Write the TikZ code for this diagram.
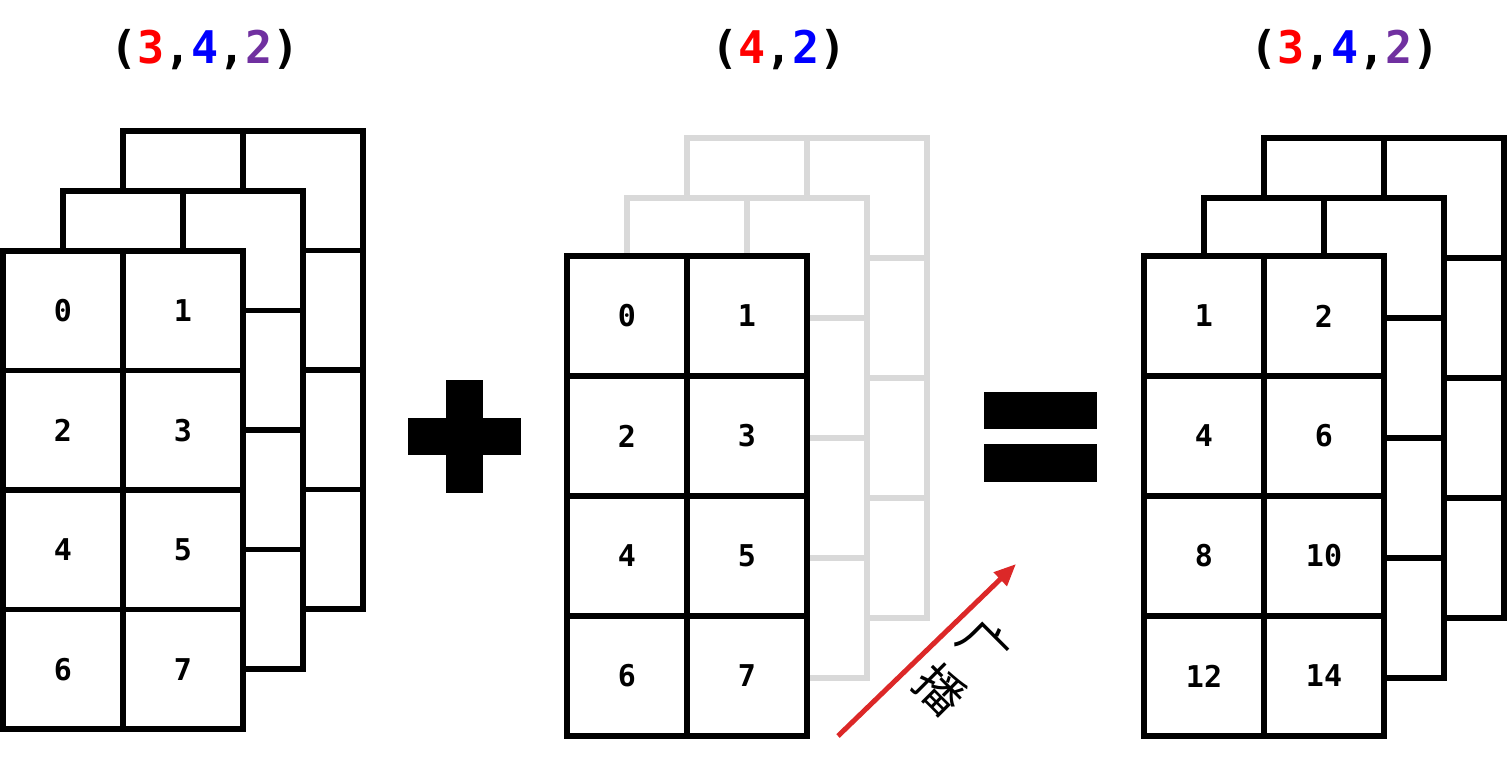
\documentclass[tikz,border=0pt]{standalone}
\usepackage{fontspec}
\setmonofont{DejaVu Sans Mono}
\newfontfamily\cjk{Noto Sans CJK SC}
\usetikzlibrary{arrows.meta}
\definecolor{purp}{HTML}{7030A0}
\definecolor{lightgray}{HTML}{D9D9D9}
\definecolor{arrowred}{RGB}{220,40,40}
\newcommand{\gridlayer}[4]{%
  \fill[white] (#1,#2) rectangle ++(240,4*#3);
  \draw[#4, line width=5.5pt] (#1,#2) rectangle ++(240,4*#3);
  \draw[#4, line width=5.5pt] (#1+120,#2) -- ++(0,4*#3);
  \foreach \i in {1,2,3} {\draw[#4, line width=5.5pt] (#1,#2+\i*#3) -- ++(240,0);}
}
\tikzset{
  cellbase/.style={draw=black, fill=white, line width=5.5pt, minimum width=120pt, inner sep=0pt, outer sep=0pt, font=\ttfamily\bfseries\fontsize{30}{32}\selectfont},
  cellL/.style={cellbase, minimum height=119.5pt},
  cellM/.style={cellbase, minimum height=120pt},
  cellR/.style={cellbase, minimum height=120pt},
  title/.style={font=\ttfamily\bfseries\fontsize{45}{54}\selectfont, inner sep=0pt, anchor=base},
  cjklabel/.style={font=\cjk\fontsize{48}{63}\selectfont, rotate=-45, inner sep=0pt, align=center},
}
\begin{document}
\begin{tikzpicture}[x=1pt,y=-1pt]
\useasboundingbox (0,0) rectangle (1507,771);
% titles
\node[title] (t1) at (205,63) {(\textcolor{red}{3},\textcolor{blue}{4},\textcolor{purp}{2})};
\node[title] (t2) at (779,63) {(\textcolor{red}{4},\textcolor{blue}{2})};
\node[title] (t3) at (1345,63) {(\textcolor{red}{3},\textcolor{blue}{4},\textcolor{purp}{2})};
% left stack
\gridlayer{123}{131}{119.5}{black}
\gridlayer{63}{191}{119.5}{black}
\foreach \v [count=\k from 0] in {0,1,2,3,4,5,6,7} {
  \pgfmathtruncatemacro\cc{mod(\k,2)}
  \pgfmathtruncatemacro\rr{div(\k,2)}
  \node[cellL] (L\k) at (63+120*\cc, 310.75+119.5*\rr) {\v};
}
% middle stack
\gridlayer{687}{138}{120}{lightgray}
\gridlayer{627}{198}{120}{lightgray}
\foreach \v [count=\k from 0] in {0,1,2,3,4,5,6,7} {
  \pgfmathtruncatemacro\cc{mod(\k,2)}
  \pgfmathtruncatemacro\rr{div(\k,2)}
  \node[cellM] (M\k) at (627+120*\cc, 316+120*\rr) {\v};
}
% right stack
\gridlayer{1264}{138}{120}{black}
\gridlayer{1204}{198}{120}{black}
\foreach \v [count=\k from 0] in {1,2,4,6,8,10,12,14} {
  \pgfmathtruncatemacro\cc{mod(\k,2)}
  \pgfmathtruncatemacro\rr{div(\k,2)}
  \node[cellR] (R\k) at (1204+120*\cc, 316+120*\rr) {\v};
}
% plus
\fill[black] (446,380) rectangle (483,493);
\fill[black] (408,418) rectangle (521,455);
% equals
\fill[black] (984,392) rectangle (1097,429);
\fill[black] (984,444) rectangle (1097,482);
% broadcast arrow
\coordinate (as) at (838,736);
\coordinate (ae) at (1016,564);
\draw[arrowred, line width=5pt, -{Triangle[length=22pt,width=18pt]}] (as) -- (ae);
\node[cjklabel] (cjk) at (962.5,667) {广\\播};
\end{tikzpicture}
\end{document}
